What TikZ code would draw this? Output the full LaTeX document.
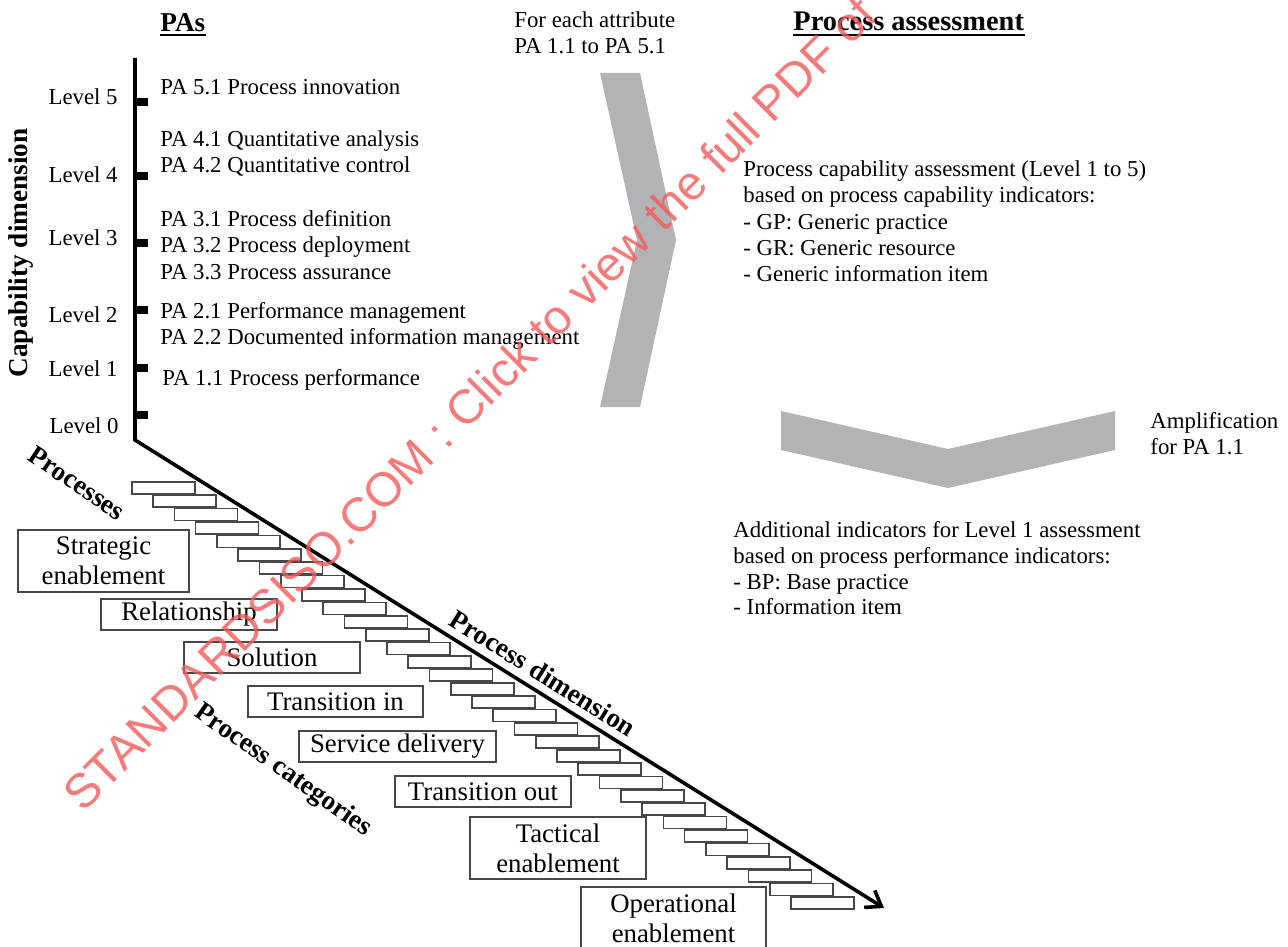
\documentclass[tikz,border=0pt]{standalone}
\usepackage{fontspec}
\setmainfont{Liberation Serif}
\newfontfamily\wmfont{Liberation Sans}
\usetikzlibrary{arrows.meta}
\definecolor{chev}{RGB}{178,179,181}
\definecolor{wm}{RGB}{242,90,90}
\tikzset{
 txt/.style={anchor=base west, inner sep=0pt, font=\fontsize{11.4}{13}\selectfont},
 lvl/.style={anchor=base east, inner sep=0pt, font=\fontsize{11.4}{13}\selectfont},
 bold/.style={inner sep=0pt, font=\bfseries\fontsize{13.6}{15}\selectfont},
 cat/.style={draw=black!72, line width=0.8pt, fill=white, inner sep=0pt, align=center, font=\fontsize{13.4}{15}\selectfont},
 stair/.style={draw=black!72, line width=0.85pt, fill=white, anchor=north west, minimum width=31.5pt, minimum height=6pt, inner sep=0pt},
 axis/.style={line width=1.8pt, line join=miter},
 tickmark/.style={fill=black},
 chevron/.style={fill=chev},
 uline/.style={line width=0.8pt},
}
\begin{document}
\begin{tikzpicture}[x=0.5pt,y=-0.5pt]
\useasboundingbox (0,0) rectangle (1288,946);

% grey chevrons
\fill[chevron] (600,73) -- (640,73) -- (676,240) -- (640,407) -- (600,407) -- (637,240) -- cycle;
\fill[chevron] (781,411) -- (948,449) -- (1115,411) -- (1115,450) -- (948,488) -- (781,450) -- cycle;

% stairs
\foreach \i in {0,...,31} {
  \node[stair] (s\i) at ({131+21.26*\i},{481+13.39*\i}) {};
}

% axes
\coordinate (atop) at (135,58);
\coordinate (aorig) at (135,440);
\coordinate (atip) at (884,908);
\draw[axis, -{Straight Barb[length=7pt,width=10pt]}] (atop) -- (aorig) -- (atip);
\foreach \y in {415,368,310,243,176,102} {
  \fill[tickmark] (135,\y-4) rectangle (148,\y+4);
}

% level labels
\node[lvl] (l5) at (118,105) {Level 5};
\node[lvl] (l4) at (118,183) {Level 4};
\node[lvl] (l3) at (118,246) {Level 3};
\node[lvl] (l2) at (118,322) {Level 2};
\node[lvl] (l1) at (118,376) {Level 1};
\node[lvl] (l0) at (119,433) {Level 0};

% PA texts
\node[txt] (pa51) at (160,95) {PA 5.1 Process innovation};
\node[txt] (pa41) at (160,147) {PA 4.1 Quantitative analysis};
\node[txt] (pa42) at (160,173) {PA 4.2 Quantitative control};
\node[txt] (pa31) at (160,227) {PA 3.1 Process definition};
\node[txt] (pa32) at (160,253) {PA 3.2 Process deployment};
\node[txt] (pa33) at (160,279) {PA 3.3 Process assurance};
\node[txt] (pa21) at (160,318) {PA 2.1 Performance management};
\node[txt] (pa22) at (160,344) {PA 2.2 Documented information management};
\node[txt] (pa11) at (162,385) {PA 1.1 Process performance};

% titles
\node[bold, anchor=base west] (pas) at (160,32) {PAs};
\draw[uline] (160,35) -- (206,35);
\node[bold, anchor=base west, font=\bfseries\fontsize{14.2}{16}\selectfont] (passess) at (793,31) {Process assessment};
\draw[uline] (793,35) -- (1025,35);
\node[bold, rotate=90, anchor=base] (capdim) at (27,253) {Capability dimension};
\node[bold, rotate=-34] (procs) at (77,483) {Processes};
\node[bold, rotate=-32] (procdim) at (543,673) {Process dimension};
\node[bold, rotate=-35] (proccat) at (283,771) {Process categories};

% right side texts
\node[txt] (each1) at (514,28) {For each attribute};
\node[txt] (each2) at (514,54) {PA 1.1 to PA 5.1};
\node[txt] (pc1) at (743,177) {Process capability assessment (Level 1 to 5)};
\node[txt] (pc2) at (743,203) {based on process capability indicators:};
\node[txt] (pc3) at (743,230) {- GP: Generic practice};
\node[txt] (pc4) at (743,256) {- GR: Generic resource};
\node[txt] (pc5) at (743,282) {- Generic information item};
\node[txt] (amp1) at (1150,428) {Amplification};
\node[txt] (amp2) at (1150,454) {for PA 1.1};
\node[txt] (ad1) at (733,537) {Additional indicators for Level 1 assessment};
\node[txt] (ad2) at (733,563) {based on process performance indicators:};
\node[txt] (ad3) at (733,589) {- BP: Base practice};
\node[txt] (ad4) at (733,614) {- Information item};

% process categories boxes
\node[cat, minimum width=85.5pt, minimum height=31pt] (strat) at (103.5,561) {Strategic\\enablement};
\node[cat, minimum width=88pt, minimum height=15.5pt] (rel) at (189,614.5) {Relationship};
\node[cat, minimum width=88pt, minimum height=15.5pt] (sol) at (272,657.5) {Solution};
\node[cat, minimum width=87.5pt, minimum height=15.5pt] (tin) at (335.5,701.5) {Transition in};
\node[cat, minimum width=98.5pt, minimum height=15.5pt] (sdel) at (397.5,746.5) {Service delivery};
\node[cat, minimum width=88pt, minimum height=15.5pt] (tout) at (483,791.5) {Transition out};
\node[cat, minimum width=88pt, minimum height=31pt] (tact) at (558,848) {Tactical\\enablement};
\node[cat, minimum width=92.5pt, minimum height=31pt] (oper) at (673.5,918) {Operational\\enablement};

% watermark
\node[rotate=45, anchor=base west, inner sep=0pt, text=wm, text opacity=0.8,
      font=\wmfont\fontsize{24}{24}\selectfont] (wmark) at (83,814)
      {STANDARDSISO.COM : Click to view the full PDF of};
\end{tikzpicture}
\end{document}
